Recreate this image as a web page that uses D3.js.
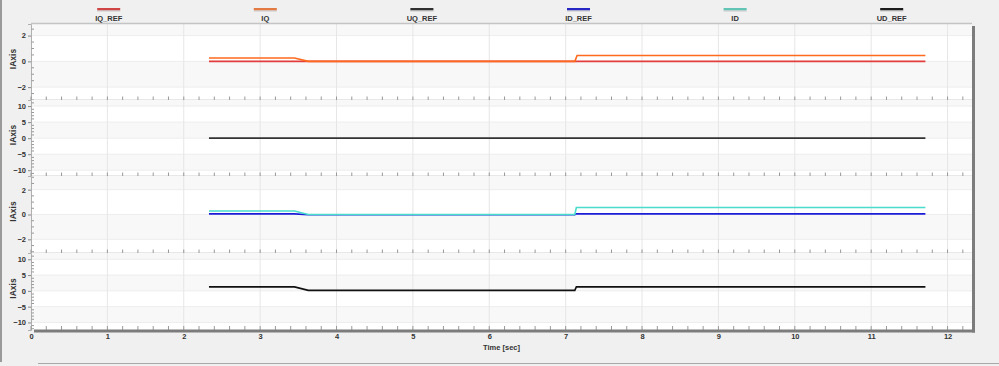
<!DOCTYPE html>
<html><head><meta charset="utf-8">
<script src="https://cdn.jsdelivr.net/npm/d3@7"></script>
<style>
html,body{margin:0;padding:0;background:#f0f0f0;}
svg{display:block;font-family:"Liberation Sans",Arial,sans-serif;}
</style></head>
<body><svg id="c" width="999" height="366"></svg>
<script>
// ---- data ----
const legendNames = ["IQ_REF","IQ","UQ_REF","ID_REF","ID","UD_REF"];
const legendColors = ["#d04646","#e27a42","#303030","#2626c4","#62c4b4","#1c1c1c"];
const lineColors = {IQ_REF:"#e23c3c",IQ:"#ff6a1e",UQ_REF:"#333333",ID_REF:"#1c1cd8",ID:"#4adccc",UD_REF:"#111111"};
const xTicks = [0,1,2,3,4,5,6,7,8,9,10,11,12];
const xLabel = "Time [sec]";
const yLabel = "IAxis";

const tIQ_REF = [2.33, 11.71];
const vIQ_REF = [0, 0];
const tIQ = [2.33, 3.45, 3.63, 7.12, 7.15, 11.71];
const vIQ = [0.26, 0.26, 0.0, 0.0, 0.46, 0.46];
const tUQ_REF = [2.33, 11.71];
const vUQ_REF = [0, 0];
const tID_REF = [2.33, 3.45, 3.63, 7.12, 7.14, 11.71];
const vID_REF = [0.05, 0.05, -0.02, -0.02, 0.05, 0.05];
const tID = [2.33, 3.45, 3.63, 7.12, 7.14, 11.71];
const vID = [0.28, 0.28, 0.0, 0.0, 0.56, 0.56];
const tUD_REF = [2.33, 3.45, 3.63, 7.12, 7.14, 11.71];
const vUD_REF = [1.25, 1.25, 0.15, 0.15, 1.25, 1.25];

const panelDomains = [[-3.0, 2.9],[-11.8, 11.9],[-3.1, 3.1],[-12.4, 12.0]];
const panelMajor = [[-2,0,2],[-10,-5,0,5,10],[-2,0,2],[-10,-5,0,5,10]];
const panelMinorStep = [0.5, 1, 0.5, 1];
const panelSeries = [
  [["IQ_REF",tIQ_REF,vIQ_REF],["IQ",tIQ,vIQ]],
  [["UQ_REF",tUQ_REF,vUQ_REF]],
  [["ID_REF",tID_REF,vID_REF],["ID",tID,vID]],
  [["UD_REF",tUD_REF,vUD_REF]]
];

// ---- layout ----
const svg = d3.select("#c");
const L = 31, R = 972;
const tops = [24, 100, 176, 253], bots = [100, 176, 253, 330];
const x = d3.scaleLinear().domain([0, 12.32]).range([L, R]);
const FONT = "Liberation Sans, Arial, sans-serif";

// outer frame
svg.append("rect").attr("x",0).attr("y",0).attr("width",2).attr("height",362).attr("fill","#9a9a9a");
svg.append("line").attr("x1",38).attr("x2",999).attr("y1",363.5).attr("y2",363.5).attr("stroke","#a8a8a8");

// plot background
svg.append("rect").attr("x",L).attr("y",tops[0]).attr("width",R-L).attr("height",bots[3]-tops[0]).attr("fill","#ffffff");

// legend
const lg = svg.append("g");
legendNames.forEach((n,i)=>{
  const cx = 108.7 + i*156.6;
  lg.append("rect").attr("x",cx-11.5).attr("y",8).attr("width",23).attr("height",2.5).attr("fill",legendColors[i]);
  lg.append("rect").attr("x",cx-11.5).attr("y",10.5).attr("width",23).attr("height",1).attr("fill","#c8c8c8");
  lg.append("text").attr("x",cx).attr("y",21).attr("text-anchor","middle").attr("font-size",7.5)
    .attr("font-weight","bold").attr("fill","#333").text(n);
});

const xMinor = d3.range(0, 12.3, 0.2);

panelDomains.forEach((dom,p)=>{
  const y = d3.scaleLinear().domain(dom).range([bots[p], tops[p]]);
  const g = svg.append("g");
  // bands
  const edges = [dom[1], ...panelMajor[p].slice().reverse(), dom[0]];
  for (let i=0;i<edges.length-1;i++){
    if (i%2===0){
      g.append("rect").attr("x",L).attr("width",R-L)
        .attr("y",y(edges[i])).attr("height",y(edges[i+1])-y(edges[i])).attr("fill","#f8f8f8");
    }
  }
  // horizontal grid
  panelMajor[p].forEach(v=>{
    g.append("line").attr("x1",L).attr("x2",R).attr("y1",y(v)).attr("y2",y(v)).attr("stroke","#ededed");
  });
  // vertical grid
  xTicks.slice(1).forEach(t=>{
    g.append("line").attr("x1",x(t)).attr("x2",x(t)).attr("y1",tops[p]).attr("y2",bots[p]).attr("stroke","#e6e6e6");
  });
  // y axis
  const yAxis = d3.axisLeft(y).tickValues(panelMajor[p]).tickSize(3).tickPadding(2).tickFormat(d3.format("d"));
  const ya = g.append("g").attr("transform",`translate(${L},0)`).call(yAxis);
  ya.select(".domain").attr("stroke","#b0b0b0");
  ya.selectAll(".tick line").attr("stroke","#888");
  ya.selectAll("text").attr("font-size",7.5).attr("font-weight","bold").attr("fill","#333").attr("font-family",FONT);
  const minors = d3.range(Math.ceil(dom[0]/panelMinorStep[p])*panelMinorStep[p], dom[1], panelMinorStep[p])
    .filter(v=>!panelMajor[p].some(m=>Math.abs(m-v)<1e-6));
  g.selectAll(null).data(minors).enter().append("line")
    .attr("x1",L+0.5).attr("x2",L+3).attr("y1",d=>y(d)).attr("y2",d=>y(d)).attr("stroke","#999");
  // y label
  g.append("text").attr("transform",`translate(16,${(tops[p]+bots[p])/2-3}) rotate(-90)`)
    .attr("text-anchor","middle").attr("font-size",8.5).attr("font-weight","bold").attr("fill","#333").text(yLabel);
  // series
  const line = d3.line().x(d=>x(d[0])).y(d=>y(d[1]));
  panelSeries[p].forEach(([name,ts,vs])=>{
    g.append("path").datum(ts.map((t,i)=>[t,vs[i]])).attr("d",line)
      .attr("fill","none").attr("stroke",lineColors[name]).attr("stroke-width",1.6);
  });
  // bottom separator with ticks
  if (p<3){
    g.append("line").attr("x1",L).attr("x2",R).attr("y1",bots[p]+0.5).attr("y2",bots[p]+0.5).attr("stroke","#a4a4a4").attr("stroke-width",1.5);
    g.selectAll(null).data(xMinor).enter().append("line")
      .attr("x1",d=>x(d)).attr("x2",d=>x(d)).attr("y1",bots[p]-3.5).attr("y2",bots[p]).attr("stroke","#999");
  }
});

// top border
svg.append("line").attr("x1",L).attr("x2",R).attr("y1",23.5).attr("y2",23.5).attr("stroke","#c4c4c4").attr("stroke-width",1.5);
// bottom axis
const bg = svg.append("g");
bg.selectAll(null).data(xMinor).enter().append("line")
  .attr("x1",d=>x(d)).attr("x2",d=>x(d)).attr("y1",bots[3]-4).attr("y2",bots[3]).attr("stroke","#999");
bg.append("rect").attr("x",L+3).attr("y",bots[3]-0.5).attr("width",R-L).attr("height",3).attr("fill","#7c7c7c");
bg.append("rect").attr("x",R).attr("y",26).attr("width",3).attr("height",bots[3]-23.5).attr("fill","#7c7c7c");
const xAxis = d3.axisBottom(x).tickValues(xTicks).tickSize(0).tickPadding(0).tickFormat(d3.format("d"));
const xa = bg.append("g").attr("transform",`translate(0,${bots[3]+4})`).call(xAxis);
xa.select(".domain").remove();
xa.selectAll("text").attr("font-size",7.5).attr("font-weight","bold").attr("fill","#333").attr("font-family",FONT);
bg.append("text").attr("x",(L+R)/2).attr("y",350).attr("text-anchor","middle").attr("font-size",7.5)
  .attr("font-weight","bold").attr("fill","#333").text(xLabel);
</script></body></html>
